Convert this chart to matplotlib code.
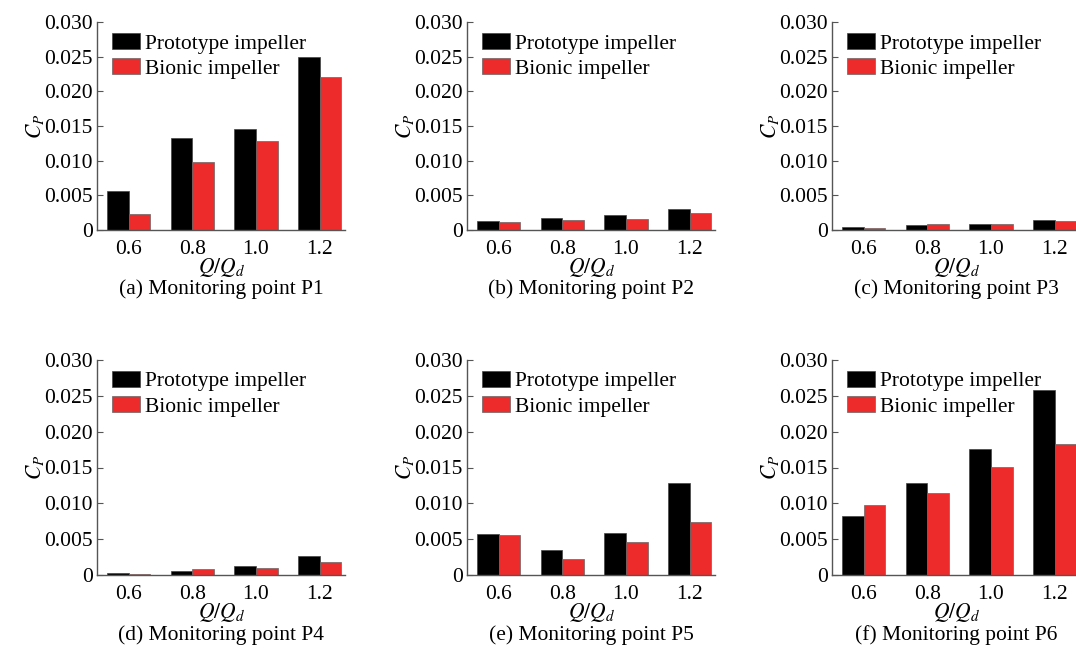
import numpy as np
import matplotlib.pyplot as plt

plt.rcParams['font.family'] = ['Liberation Serif', 'DejaVu Serif']
plt.rcParams['mathtext.fontset'] = 'stix'

flow = ['0.6', '0.8', '1.0', '1.2']

p1_proto = [0.0056, 0.0132, 0.0145, 0.0249]
p1_bionic = [0.0023, 0.0098, 0.0128, 0.0220]
p2_proto = [0.0013, 0.0018, 0.0021, 0.0030]
p2_bionic = [0.0012, 0.0015, 0.0016, 0.0024]
p3_proto = [0.0005, 0.0007, 0.0009, 0.0015]
p3_bionic = [0.0003, 0.0008, 0.0008, 0.0013]
p4_proto = [0.0003, 0.0006, 0.0012, 0.0026]
p4_bionic = [0.0001, 0.0009, 0.0010, 0.0018]
p5_proto = [0.0057, 0.0035, 0.0058, 0.0129]
p5_bionic = [0.0056, 0.0022, 0.0046, 0.0074]
p6_proto = [0.0083, 0.0128, 0.0176, 0.0258]
p6_bionic = [0.0098, 0.0115, 0.0151, 0.0183]

captions = ['(a) Monitoring point P1', '(b) Monitoring point P2',
            '(c) Monitoring point P3', '(d) Monitoring point P4',
            '(e) Monitoring point P5', '(f) Monitoring point P6']
protos = [p1_proto, p2_proto, p3_proto, p4_proto, p5_proto, p6_proto]
bionics = [p1_bionic, p2_bionic, p3_bionic, p4_bionic, p5_bionic, p6_bionic]

W, H = 1076, 652
fig = plt.figure(figsize=(W / 100, H / 100), dpi=100)

lefts = [97, 467, 832]
bottoms = [230, 575]
tops = [22, 360]
aw = 248

x = np.arange(len(flow))
bw = 0.34
red = '#EE2B2B'

for i in range(6):
    r, c = divmod(i, 3)
    ax = fig.add_axes([lefts[c] / W, 1 - bottoms[r] / H, aw / W,
                       (bottoms[r] - tops[r]) / H])
    ax.bar(x - bw / 2, protos[i], bw, color='black', edgecolor='#444444',
           linewidth=0.5, label='Prototype impeller')
    ax.bar(x + bw / 2, bionics[i], bw, color=red, edgecolor='#666666',
           linewidth=0.5, label='Bionic impeller')
    ax.set_xlim(-0.5, 3.4)
    ax.set_ylim(0, 0.030)
    ax.set_yticks([0, 0.005, 0.010, 0.015, 0.020, 0.025, 0.030])
    ax.set_yticklabels(['0', '0.005', '0.010', '0.015', '0.020', '0.025', '0.030'])
    ax.set_xticks(x)
    ax.set_xticklabels(flow)
    ax.tick_params(axis='y', direction='in', length=4, labelsize=15.5, pad=3,
                   color='#555555')
    ax.tick_params(axis='x', length=0, labelsize=15.5, pad=7)
    for s in ['top', 'right']:
        ax.spines[s].set_visible(False)
    for s in ['left', 'bottom']:
        ax.spines[s].set_color('#555555')
        ax.spines[s].set_linewidth(1.0)
    ax.set_ylabel('$C_P$', fontsize=15.5, labelpad=-1)
    ax.set_xlabel('$Q/Q_d$', fontsize=15.5, labelpad=-2)
    ax.text(0.5, -0.235, captions[i], transform=ax.transAxes, ha='center',
            va='top', fontsize=15.5)
    ax.legend(loc='upper left', bbox_to_anchor=(0.0, 1.02), frameon=False,
              fontsize=15.5, handlelength=1.3, handleheight=0.8,
              handletextpad=0.25, labelspacing=0.2, borderaxespad=0.3)

fig.savefig('out.png', dpi=100)
